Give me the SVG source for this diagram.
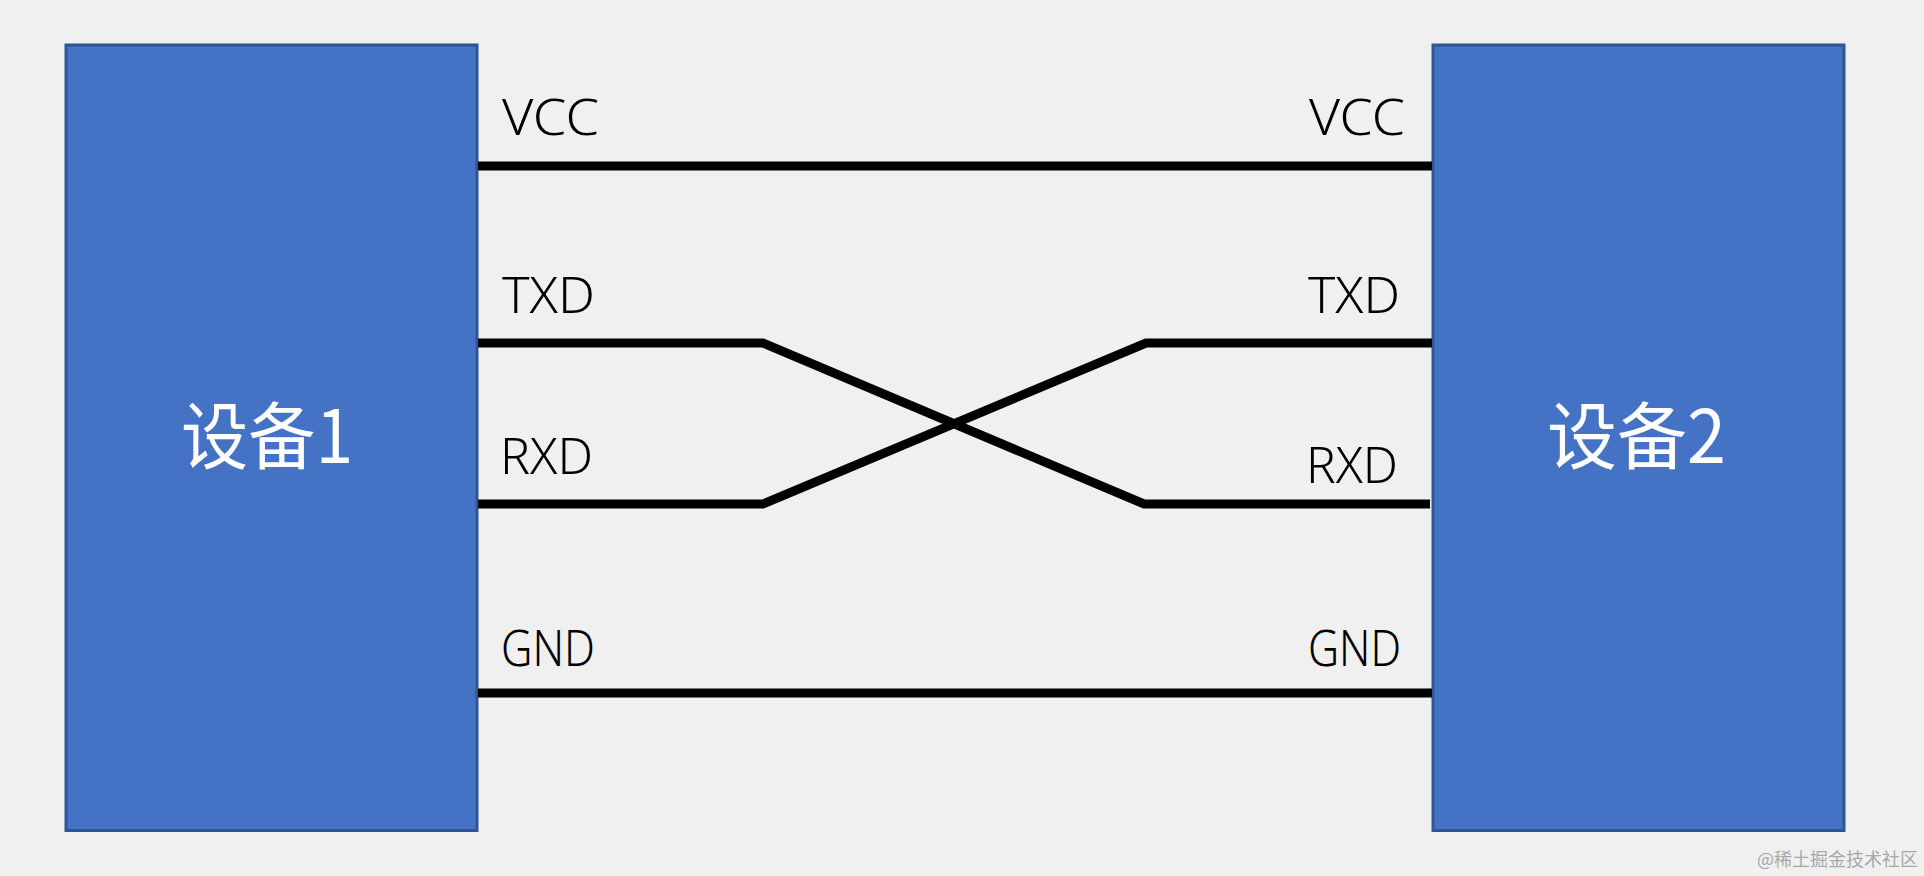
<svg xmlns="http://www.w3.org/2000/svg" width="1924" height="876" viewBox="0 0 1924 876">
<style>
.box{fill:#4472c4;stroke:#2f5597;stroke-width:3}
.w{fill:none;stroke:#000;stroke-width:9}
.l{font-family:"Noto Sans","Noto Sans CJK SC",sans-serif;font-size:50px;font-weight:300;fill:#000}
.d{font-family:"Noto Sans CJK SC","Noto Sans",sans-serif;font-size:73px;font-weight:400;fill:#fff}
.m{font-family:"Noto Sans CJK SC",sans-serif;font-size:18px;fill:#a8a8a8}
</style>
<rect width="1924" height="876" fill="#f0f0f0"/>
<g id="device1"><rect class="box" x="66" y="45" width="411" height="785.5"/><text class="d" x="181" y="463" textLength="172" lengthAdjust="spacingAndGlyphs">设备1</text></g>
<g id="device2"><rect class="box" x="1433" y="45" width="411" height="785.5"/><text class="d" x="1547" y="463" textLength="179" lengthAdjust="spacingAndGlyphs">设备2</text></g>
<g id="connectors">
<path class="w" d="M478 166H1432"/>
<path class="w" d="M478 343H763L1144 504H1430"/>
<path class="w" d="M478 504H763L1146 343H1432"/>
<path class="w" d="M478 693H1432"/>
</g>
<g id="labels">
<text class="l" x="502" y="135" textLength="97" lengthAdjust="spacingAndGlyphs">VCC</text>
<text class="l" x="1309" y="135" textLength="96" lengthAdjust="spacingAndGlyphs">VCC</text>
<text class="l" x="502" y="313" textLength="93" lengthAdjust="spacingAndGlyphs">TXD</text>
<text class="l" x="1308" y="313" textLength="92" lengthAdjust="spacingAndGlyphs">TXD</text>
<text class="l" x="500" y="474" textLength="93" lengthAdjust="spacingAndGlyphs">RXD</text>
<text class="l" x="1306" y="483" textLength="92" lengthAdjust="spacingAndGlyphs">RXD</text>
<text class="l" x="501" y="666" textLength="94" lengthAdjust="spacingAndGlyphs">GND</text>
<text class="l" x="1308" y="666" textLength="93" lengthAdjust="spacingAndGlyphs">GND</text>
</g>
<text class="m" x="1757" y="866">@稀土掘金技术社区</text>
</svg>
